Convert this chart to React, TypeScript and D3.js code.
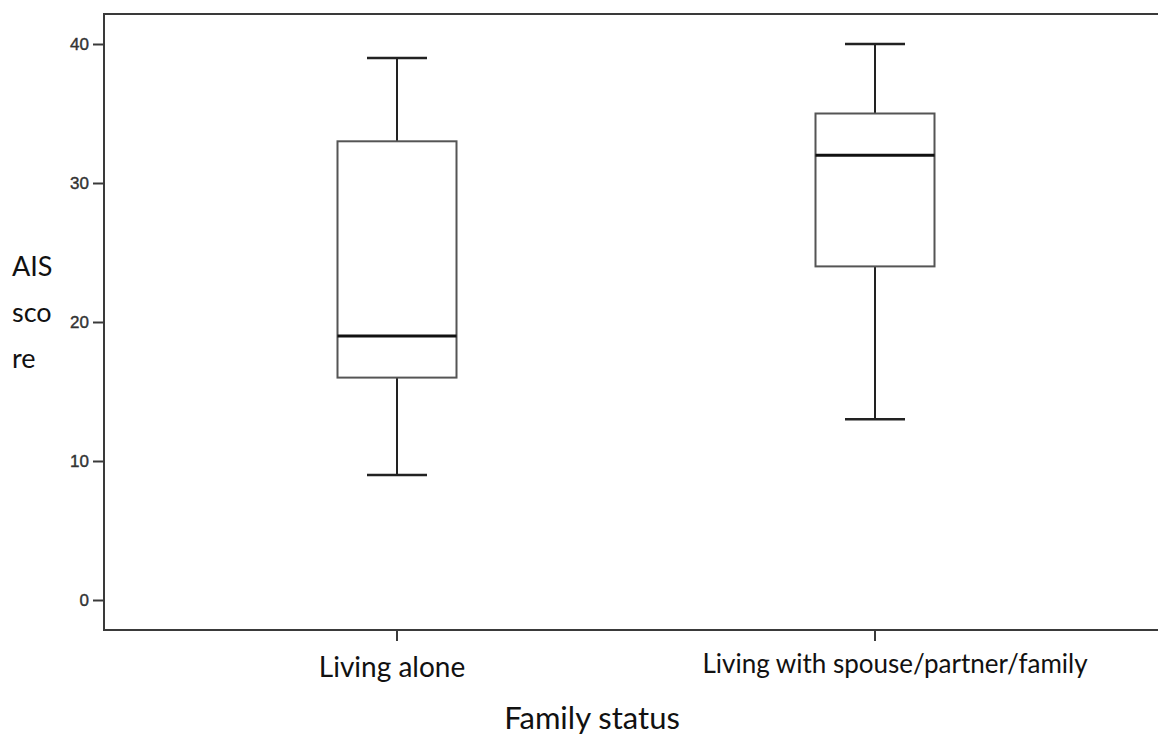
import React, { useEffect, useRef } from "react";
import * as d3 from "d3";

// box plot stats
const categories = ["Living alone", "Living with spouse/partner/family"];
const mins = [9, 13];
const q1s = [16, 24];
const medians = [19, 32];
const q3s = [33, 35];
const maxs = [39, 40];
const yTicks = [0, 10, 20, 30, 40];

const W = 1158, H = 740;

export default function App() {
  const ref = useRef<SVGSVGElement>(null);

  useEffect(() => {
    const svg = d3.select(ref.current);
    svg.selectAll("*").remove();

    const left = 104, right = 1158, top = 14, bottom = 630;
    const y = d3.scaleLinear().domain([0, 40]).range([600, 44]);
    const x = d3.scalePoint().domain(categories).range([397, 875]);

    const data = categories.map((c, i) => ({
      c, min: mins[i], q1: q1s[i], med: medians[i], q3: q3s[i], max: maxs[i]
    }));

    // frame
    svg.append("path")
      .attr("d", `M${right},${top}H${left}V${bottom}H${right}`)
      .attr("fill", "none").attr("stroke", "#3a3a3a").attr("stroke-width", 2);

    // y axis
    const yAxis = svg.append("g").attr("transform", `translate(${left},0)`)
      .call(d3.axisLeft(y).tickValues(yTicks).tickSize(11).tickPadding(4));
    yAxis.select(".domain").remove();
    yAxis.selectAll("line").attr("stroke", "#3a3a3a").attr("stroke-width", 2);
    yAxis.attr("font-size", 17);
    yAxis.selectAll("text").attr("font-family", "Liberation Sans, Arial, sans-serif")
      .attr("fill", "#333").attr("stroke", "#333").attr("stroke-width", 0.4);

    // x ticks
    svg.selectAll(".xt").data(categories).join("line")
      .attr("x1", d => x(d)!).attr("x2", d => x(d)!)
      .attr("y1", bottom).attr("y2", bottom + 11)
      .attr("stroke", "#3a3a3a").attr("stroke-width", 2);

    const bw = 119, cap = 60;
    const g = svg.selectAll(".box").data(data).join("g");
    g.append("line")
      .attr("x1", d => x(d.c)!).attr("x2", d => x(d.c)!)
      .attr("y1", d => y(d.max)).attr("y2", d => y(d.q3))
      .attr("stroke", "#222").attr("stroke-width", 2);
    g.append("line")
      .attr("x1", d => x(d.c)!).attr("x2", d => x(d.c)!)
      .attr("y1", d => y(d.q1)).attr("y2", d => y(d.min))
      .attr("stroke", "#222").attr("stroke-width", 2);
    g.append("line")
      .attr("x1", d => x(d.c)! - cap / 2).attr("x2", d => x(d.c)! + cap / 2)
      .attr("y1", d => y(d.max)).attr("y2", d => y(d.max))
      .attr("stroke", "#222").attr("stroke-width", 2.5);
    g.append("line")
      .attr("x1", d => x(d.c)! - cap / 2).attr("x2", d => x(d.c)! + cap / 2)
      .attr("y1", d => y(d.min)).attr("y2", d => y(d.min))
      .attr("stroke", "#222").attr("stroke-width", 2.5);
    g.append("rect")
      .attr("x", d => x(d.c)! - bw / 2).attr("width", bw)
      .attr("y", d => y(d.q3)).attr("height", d => y(d.q1) - y(d.q3))
      .attr("fill", "white").attr("stroke", "#555").attr("stroke-width", 2);
    g.append("line")
      .attr("x1", d => x(d.c)! - bw / 2).attr("x2", d => x(d.c)! + bw / 2)
      .attr("y1", d => y(d.med)).attr("y2", d => y(d.med))
      .attr("stroke", "#111").attr("stroke-width", 3);

    // category labels
    const font = "Lato, 'Open Sans', sans-serif";
    svg.append("text").attr("x", 392).attr("y", 677).attr("text-anchor", "middle")
      .attr("font-family", font).attr("font-size", 28).attr("fill", "#111")
      .text(categories[0]);
    svg.append("text").attr("x", 895).attr("y", 673).attr("text-anchor", "middle")
      .attr("font-family", font).attr("font-size", 26).attr("fill", "#111")
      .text(categories[1]);

    svg.append("text").attr("x", 592).attr("y", 729).attr("text-anchor", "middle")
      .attr("font-family", font).attr("font-size", 31).attr("fill", "#111")
      .text("Family status");

    ["AIS", "sco", "re"].forEach((t, i) => {
      svg.append("text").attr("x", 12).attr("y", 276 + i * 46)
        .attr("font-family", font).attr("font-size", 27).attr("fill", "#111")
        .text(t);
    });
  }, []);

  return (
    <svg ref={ref} width={W} height={H}
      style={{ position: "absolute", left: 0, top: 0, background: "white" }} />
  );
}
